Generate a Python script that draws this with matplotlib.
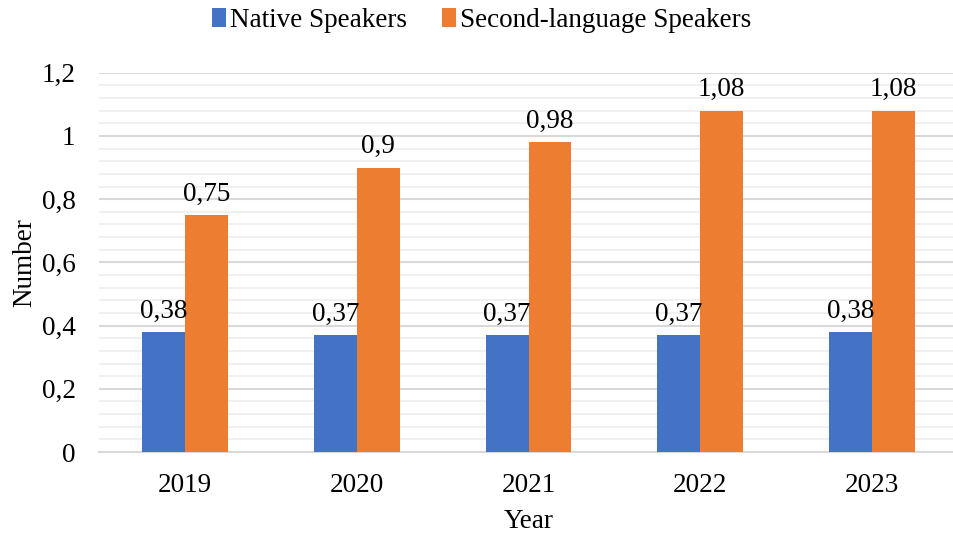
import matplotlib
matplotlib.use("Agg")
import matplotlib.pyplot as plt
import numpy as np
from matplotlib.ticker import MultipleLocator, FuncFormatter

years = ["2019", "2020", "2021", "2022", "2023"]
native = [0.38, 0.37, 0.37, 0.37, 0.38]
second = [0.75, 0.90, 0.98, 1.08, 1.08]

BLUE = "#4472C4"
ORANGE = "#ED7D31"
FS = 19.5

plt.rcParams["font.family"] = ["Liberation Serif", "DejaVu Serif"]


def comma(v):
    s = f"{v:.2f}".rstrip("0").rstrip(".")
    return s.replace(".", ",")


fig = plt.figure(figsize=(9.54, 5.35), dpi=100)
ax = fig.add_axes([0.104, 0.155, 0.9, 0.709])

x = np.arange(len(years))
w = 0.25
b1 = ax.bar(x - w / 2, native, w, color=BLUE, label="Native Speakers", zorder=3)
b2 = ax.bar(x + w / 2, second, w, color=ORANGE, label="Second-language Speakers", zorder=3)

for bars, vals in ((b1, native), (b2, second)):
    for rect, v in zip(bars, vals):
        ax.annotate(comma(v), (rect.get_x() + rect.get_width() / 2, v),
                    xytext=(0, 6), textcoords="offset points",
                    ha="center", va="bottom", fontsize=FS)

ax.set_xlim(-0.5, len(years) - 0.5)
ax.set_ylim(0, 1.2)
ax.yaxis.set_major_locator(MultipleLocator(0.2))
ax.yaxis.set_minor_locator(MultipleLocator(0.04))
ax.yaxis.set_major_formatter(FuncFormatter(lambda v, p: comma(round(v, 2))))
ax.grid(axis="y", which="major", color="#d9d9d9", linewidth=1.5, zorder=0)
ax.grid(axis="y", which="minor", color="#eeeeee", linewidth=1.2, zorder=0)

ax.set_xticks(x)
ax.set_xticklabels(years)
ax.tick_params(axis="both", which="both", length=0, labelsize=FS)
ax.tick_params(axis="y", pad=17)
ax.tick_params(axis="x", pad=15)

for side in ("top", "right", "left"):
    ax.spines[side].set_visible(False)
ax.spines["bottom"].set_color("#d9d9d9")
ax.spines["bottom"].set_linewidth(1.5)

ax.set_xlabel("Year", fontsize=FS, labelpad=8)
ax.set_ylabel("Number", fontsize=FS, labelpad=3)

fig.legend(loc="upper center", bbox_to_anchor=(0.505, 1.03), ncol=2, frameon=False,
           fontsize=FS, handlelength=0.5, handleheight=0.7, handletextpad=0.15,
           columnspacing=1.3)

fig.savefig("out.png", dpi=100)
